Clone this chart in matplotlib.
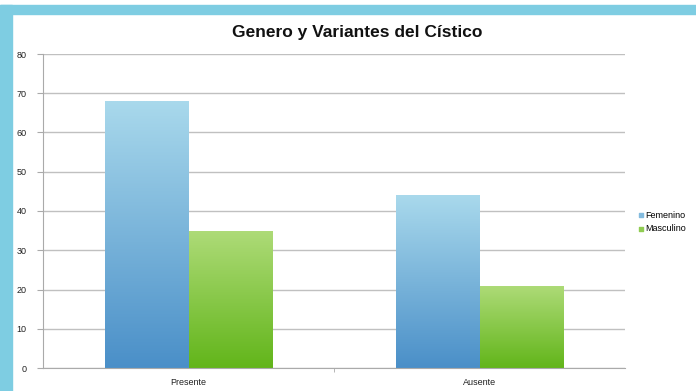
import matplotlib
matplotlib.use("Agg")
import matplotlib.pyplot as plt
import numpy as np
from matplotlib.patches import Rectangle
from matplotlib.colors import LinearSegmentedColormap

categories = ["Presente", "Ausente"]
series_names = ["Femenino", "Masculino"]
femenino = [68, 44]
masculino = [35, 21]
yticks = [0, 10, 20, 30, 40, 50, 60, 70, 80]

plt.rcParams['font.family'] = ['Liberation Sans', 'DejaVu Sans']

fig = plt.figure(figsize=(6.96, 3.91), dpi=100)
W, H = 696, 391

# blue frame
border = "#7ecde2"
fig.patches.append(Rectangle((0, 1 - 14 / H), 1, 9 / H, transform=fig.transFigure, color=border, zorder=0))
fig.patches.append(Rectangle((0, 0), 12 / W, 1 - 5 / H, transform=fig.transFigure, color=border, zorder=0))

ax = fig.add_axes([43 / W, 1 - 368 / H, (625 - 43) / W, (368 - 54) / H])
ax.set_xlim(-0.5, 1.5)
ax.set_ylim(0, 80)

bw = 0.288
x = np.arange(len(categories))
blue_cmap = LinearSegmentedColormap.from_list("b", ["#4a8fc8", "#a9d9ec"])
green_cmap = LinearSegmentedColormap.from_list("g", ["#62b51a", "#aedb78"])
grad = np.linspace(0, 1, 256).reshape(-1, 1)

for vals, offset, cmap, name in [(femenino, -bw / 2, blue_cmap, series_names[0]),
                                 (masculino, bw / 2, green_cmap, series_names[1])]:
    bars = ax.bar(x + offset, vals, width=bw, color="none", zorder=2)
    for b, v in zip(bars, vals):
        x0 = b.get_x()
        im = ax.imshow(grad, extent=[x0, x0 + bw, 0, v], origin="lower", cmap=cmap,
                       aspect="auto", zorder=2, interpolation="bilinear")
        im.set_clip_path(b)
    ax.scatter([], [], marker="s", s=6, color=cmap(0.6), label=name)

ax.set_xlim(-0.5, 1.5)
ax.set_ylim(0, 80)
ax.set_yticks(yticks)
ax.set_yticklabels([str(t) for t in yticks], fontsize=6.5, color="#222222")
ax.set_xticks(x)
ax.set_xticklabels(categories, fontsize=6.5, color="#222222")
ax.set_xticks([0.5], minor=True)
ax.tick_params(axis="x", which="major", length=0, pad=7)
ax.tick_params(axis="x", which="minor", length=3, color="#aaaaaa", direction="out")
ax.tick_params(axis="y", length=4, color="#aaaaaa", pad=8)
ax.grid(axis="y", color="#c0c0c0", linewidth=1, zorder=0)
ax.set_axisbelow(True)
for s in ["top", "right"]:
    ax.spines[s].set_visible(False)
for s in ["left", "bottom"]:
    ax.spines[s].set_color("#aaaaaa")

fig.text(357 / W, 1 - 32 / H, "Genero y Variantes del Cístico", ha="center", va="center",
         fontsize=12.5, fontweight="bold", color="#111111")

leg = fig.legend(loc="center left", bbox_to_anchor=(632 / W, 1 - 222 / H), frameon=False,
                 fontsize=6.5, handletextpad=0.0, handlelength=1.0, labelspacing=0.5,
                 borderpad=0)

fig.savefig("out.png", dpi=100)
